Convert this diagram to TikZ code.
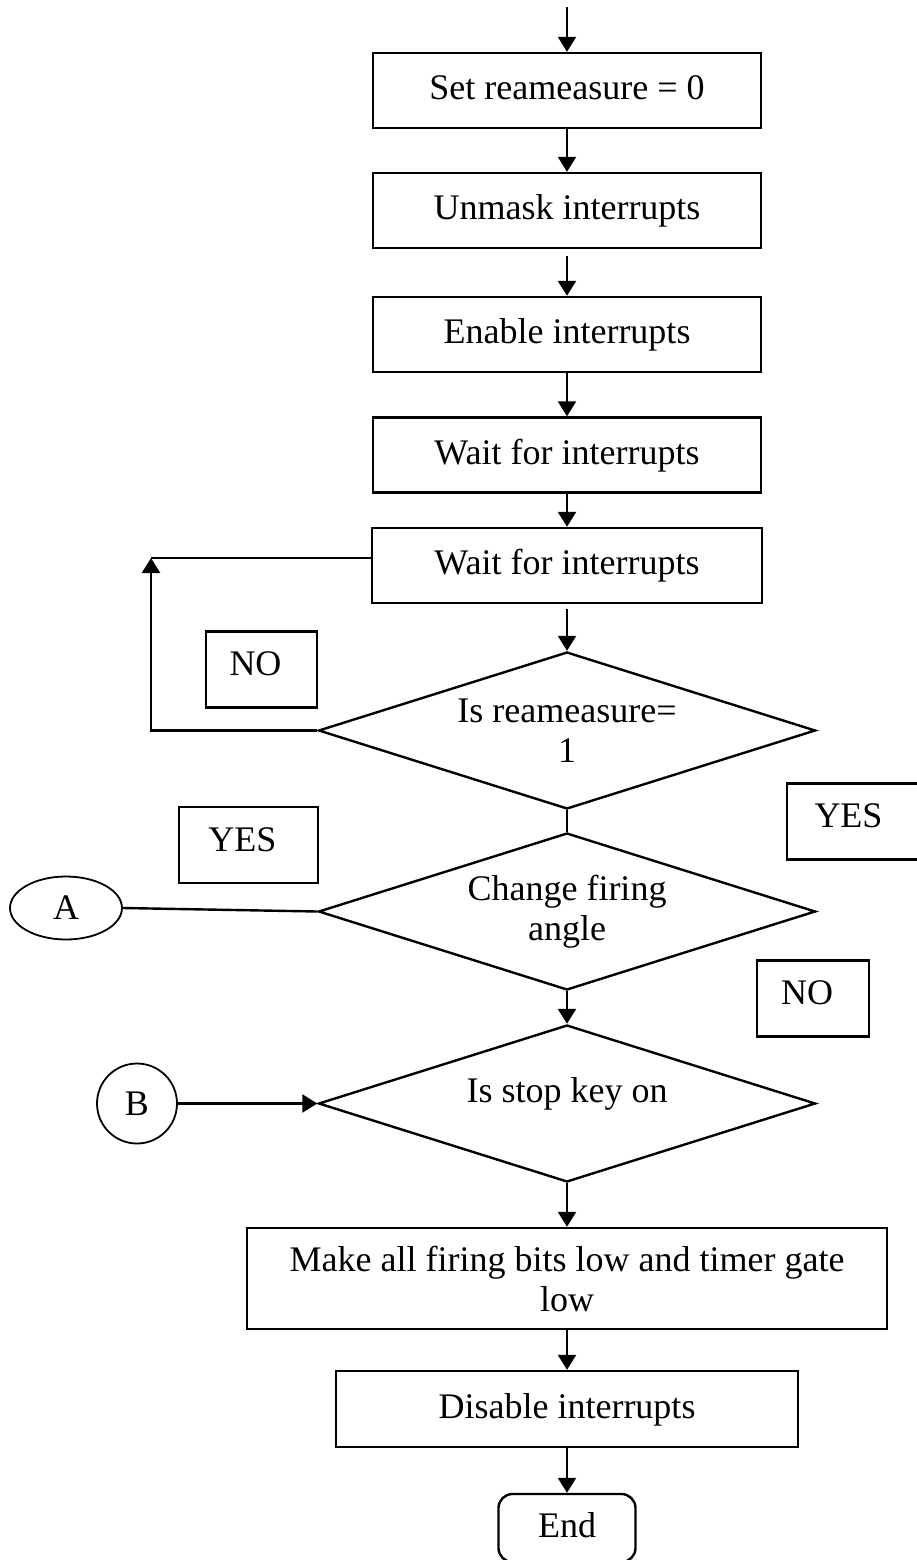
\documentclass[tikz,border=0pt]{standalone}
\usepackage{fontspec}
\setmainfont{Liberation Serif}
\usetikzlibrary{shapes.geometric,arrows.meta}
\tikzset{
  fnode/.style={draw,line width=2.4pt,inner sep=0pt},
  fbx/.style={fnode,minimum width=388pt,minimum height=75pt,text height=26pt,text depth=8pt},
  fdec/.style={fnode,diamond,aspect=3.16,minimum width=497pt,minimum height=157pt},
  ftag/.style={fnode,minimum height=76pt,text height=26pt,text depth=14pt,execute at end node=\hspace*{12pt}},
  fcon/.style={draw,line width=1.8pt,inner sep=0pt},
  fline/.style={line width=2.4pt},
  farr/.style={fline,-{Triangle[length=15pt,width=18pt]}},
}
\begin{document}
\begin{tikzpicture}[x=1pt,y=-1pt,font=\fontsize{36pt}{40pt}\selectfont]
\pgfmathsetmacro{\fcx}{567}
\useasboundingbox (0,0) rectangle (916,1560);
% main column
\node[fbx] (reset) at (\fcx,90.5) {Set reameasure = 0};
\node[fbx] (unmask) at (\fcx,210.5) {Unmask interrupts};
\node[fbx] (enable) at (\fcx,334.5) {Enable interrupts};
\node[fbx] (waitA) at (\fcx,455) {Wait for interrupts};
\node[fbx,minimum width=390pt] (waitB) at (\fcx,565.5) {Wait for interrupts};
\node[fdec,label={[align=center]center:Is reameasure=\\1}] (isre) at (\fcx,730.5) {};
\node[fdec,label={[align=center]center:Change firing\\angle}] (fire) at (\fcx,911.5) {};
\node[fdec,label={[yshift=10pt]center:Is stop key on}] (stop) at (\fcx,1103.5) {};
\node[fnode,align=center,minimum width=640pt,minimum height=101pt] (allLow) at (\fcx,1278.5) {Make all firing bits low and timer gate\\low};
\node[fbx,minimum width=462pt,minimum height=76pt] (disable) at (\fcx,1409) {Disable interrupts};
\node[fbx,rounded corners=14pt,minimum width=137pt,minimum height=68pt] (end) at (\fcx,1528) {End};
% branch tags
\node[ftag,minimum width=111pt] (noL) at (261.5,669.5) {NO};
\node[ftag,minimum width=139pt] (yesL) at (248.5,845) {YES};
\node[ftag,minimum width=135pt] (yesR) at (854.5,821.5) {YES};
\node[ftag,minimum width=112pt] (noR) at (813,998.5) {NO};
% off-page connectors
\node[fcon,ellipse,minimum width=112pt,minimum height=63pt] (conA) at (66,908) {A};
\node[fcon,circle,minimum size=80pt] (conB) at (137,1103.5) {B};
% flow
\coordinate (entry) at (\fcx,7);
\coordinate (back) at (151,558);
\draw[farr] (entry) -- (reset.north);
\foreach \a/\b in {reset/unmask,enable/waitA,waitA/waitB,fire/stop,stop/allLow,allLow/disable,disable/end}
  \draw[farr] (\a.south) -- (\b.north);
\draw[farr,shorten <=7pt] (unmask.south) -- (enable.north);
\draw[farr,shorten <=5pt] (waitB.south) -- (isre.north);
\draw[fline] (isre.south) -- (fire.north);
\draw[farr] (isre.west) -| (back);
\draw[fline] (back) -- (back -| waitB.west);
\draw[fline] (conA.east) -- (fire.west);
\draw[farr] (conB.east) -- (stop.west);
\end{tikzpicture}
\end{document}
